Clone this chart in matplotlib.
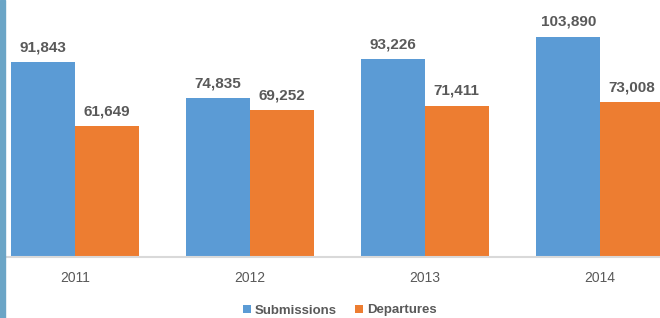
import matplotlib
matplotlib.use("Agg")
import matplotlib.pyplot as plt
from matplotlib.patches import Rectangle
import numpy as np

years = ["2011", "2012", "2013", "2014"]
submissions = [91843, 74835, 93226, 103890]
departures = [61649, 69252, 71411, 73008]
series_names = ["Submissions", "Departures"]
colors = ["#5B9BD5", "#ED7D31"]

plt.rcParams['font.family'] = ['Liberation Sans', 'DejaVu Sans']

W, H = 660, 318
fig = plt.figure(figsize=(W / 100, H / 100), dpi=100)
ax = fig.add_axes([0, 61 / H, 1, 257 / H])

x = np.arange(len(years))
bw = 0.363
b1 = ax.bar(x - bw / 2, submissions, bw, color=colors[0], label=series_names[0])
b2 = ax.bar(x + bw / 2, departures, bw, color=colors[1], label=series_names[1])

for bars, vals in ((b1, submissions), (b2, departures)):
    for rect, v in zip(bars, vals):
        ax.annotate(f"{v:,}", (rect.get_x() + rect.get_width() / 2, v),
                    xytext=(0, 8), textcoords="offset points",
                    ha="center", va="baseline", fontsize=11,
                    fontweight="bold", color="#595959")

ax.set_xlim(-75 / 175, (W - 75) / 175)
ax.set_ylim(0, 121300)
ax.set_xticks(x)
ax.set_xticklabels(years, fontsize=10, color="#595959")
ax.tick_params(axis="x", length=0, pad=10)
ax.set_yticks([])
for s in ("top", "right", "left"):
    ax.spines[s].set_visible(False)
ax.spines["bottom"].set_color("#D9D9D9")
ax.spines["bottom"].set_linewidth(1.5)

leg = fig.legend(handles=[b1, b2], loc="center", bbox_to_anchor=(340 / W, 7.5 / H),
                 ncol=2, frameon=False, handlelength=0.6, handleheight=0.6,
                 handletextpad=0.3, columnspacing=1.4,
                 prop={"size": 9.5, "weight": "bold"})
for t in leg.get_texts():
    t.set_color("#595959")

fig.patches.append(Rectangle((0, 0), 4.5 / W, 1, transform=fig.transFigure,
                             color="#6BA5C6", zorder=10))

fig.savefig("out.png", dpi=100)
